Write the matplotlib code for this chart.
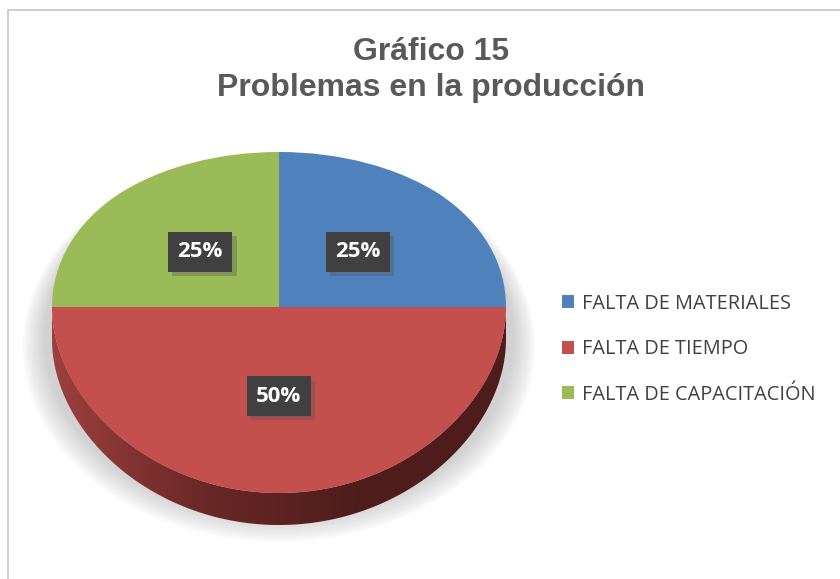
import numpy as np
import matplotlib.pyplot as plt
from matplotlib.patches import Ellipse, Patch, PathPatch, Polygon, Rectangle
from matplotlib.path import Path
from matplotlib.colors import LinearSegmentedColormap
import matplotlib.patheffects as pe

# ── Datos ────────────────────────────────────────────────────────────────────
categorias = ['FALTA DE MATERIALES', 'FALTA DE TIEMPO', 'FALTA DE CAPACITACIÓN']
valores = [25, 50, 25]
colores = ['#4F81BD', '#C4504E', '#9BBB59']
titulo = 'Gráfico 15\nProblemas en la producción'

W, H = 840, 579
fig = plt.figure(figsize=(W / 100, H / 100), dpi=100)
fig.patch.set_facecolor('white')

# marco del gráfico
fig.patches.append(Rectangle((8 / W, -0.01), 1.0, (H - 10) / H + 0.01,
                             transform=fig.transFigure, fill=False,
                             edgecolor='#C6C6C6', lw=1.2))

# ── Ejes en píxeles ──────────────────────────────────────────────────────────
ax = fig.add_axes([0, 0, 1, 1])

cx, cy = 279, 307        # centro (línea horizontal) en píxeles
rx = 227                 # semieje horizontal
arriba, abajo = 155, 186 # perspectiva: mitad lejana más corta
prof = 32                # grosor del disco


def proyectar(x, y):
    """Pasa del círculo unitario del pastel a la elipse en perspectiva."""
    x = np.asarray(x, dtype=float)
    y = np.asarray(y, dtype=float)
    a = (arriba + abajo) / 2
    b = (abajo - arriba) / 2
    return cx + rx * x, cy - (a * y - b * y ** 2)


wedges, textos, autotextos = ax.pie(
    valores, colors=colores, startangle=90, counterclock=False,
    autopct='%1.0f%%', pctdistance=0.49, radius=1.0,
    wedgeprops=dict(linewidth=0),
    textprops=dict(color='white', fontsize=16, fontweight='bold',
                   family='Open Sans'))
ax.set_aspect('auto')

# reemplazar cada porción por su versión proyectada
for w in wedges:
    p = w.get_path()
    vx, vy = proyectar(p.vertices[:, 0], p.vertices[:, 1])
    ax.add_patch(PathPatch(Path(np.c_[vx, vy], p.codes),
                           facecolor=w.get_facecolor(), edgecolor='none', zorder=3))
    w.remove()

# sombra difusa bajo el pastel
for k in range(14):
    s = 1.0 + 0.007 * k
    ax.add_patch(Ellipse((cx, cy + 32 + 0.6 * k), 2 * rx * s * 1.035,
                         (arriba + abajo) * s * 1.05,
                         facecolor='#9A9A9A', edgecolor='none',
                         alpha=0.035, zorder=0))

# lateral (profundidad) con degradado
t = np.linspace(np.pi, 2 * np.pi, 200)
bx, by = proyectar(np.cos(t), np.sin(t))
verts = np.concatenate([np.c_[bx, by], np.c_[bx[::-1], by[::-1] + prof]])
lateral = Polygon(verts, closed=True, facecolor='none', edgecolor='none', zorder=2)
ax.add_patch(lateral)
cmap = LinearSegmentedColormap.from_list('lado', ['#9C403D', '#6A2826', '#4F1D1C', '#4E1C1B'])
img = ax.imshow(np.linspace(0, 1, 256)[np.newaxis, :], cmap=cmap,
                extent=(cx - rx, cx + rx, cy + abajo + prof, cy),
                aspect='auto', zorder=2)
img.set_clip_path(lateral)

# etiquetas de datos con caja oscura
for txt in autotextos:
    px, py = proyectar(*txt.get_position())
    txt.set_position((float(px), float(py) + 2))
    txt.set_zorder(6)
    txt.set_bbox(dict(boxstyle='square,pad=0.42', facecolor='#404040',
                      edgecolor='none'))
    txt.get_bbox_patch().set_path_effects(
        [pe.SimplePatchShadow(offset=(3, -3), shadow_rgbFace='#555555', alpha=0.35),
         pe.Normal()])

ax.set_xlim(0, W)
ax.set_ylim(H, 0)
ax.axis('off')

# ── Título ───────────────────────────────────────────────────────────────────
fig.text(431 / W, 1 - 70 / H, titulo, ha='center', va='center',
         fontsize=23, fontweight='bold', color='#595959',
         family='Liberation Sans', linespacing=1.3)

# ── Leyenda ──────────────────────────────────────────────────────────────────
handles = [Patch(facecolor=c, edgecolor='none') for c in colores]
fig.legend(handles, categorias, loc='upper left',
           bbox_to_anchor=(544 / W, 1 - 276 / H), frameon=False,
           labelspacing=1.28, handlelength=0.62,
           handleheight=0.62, handletextpad=0.4,
           prop=dict(family='Open Sans', size=14.3),
           labelcolor='#404040')

fig.savefig('out.png', dpi=100, facecolor=fig.get_facecolor())
